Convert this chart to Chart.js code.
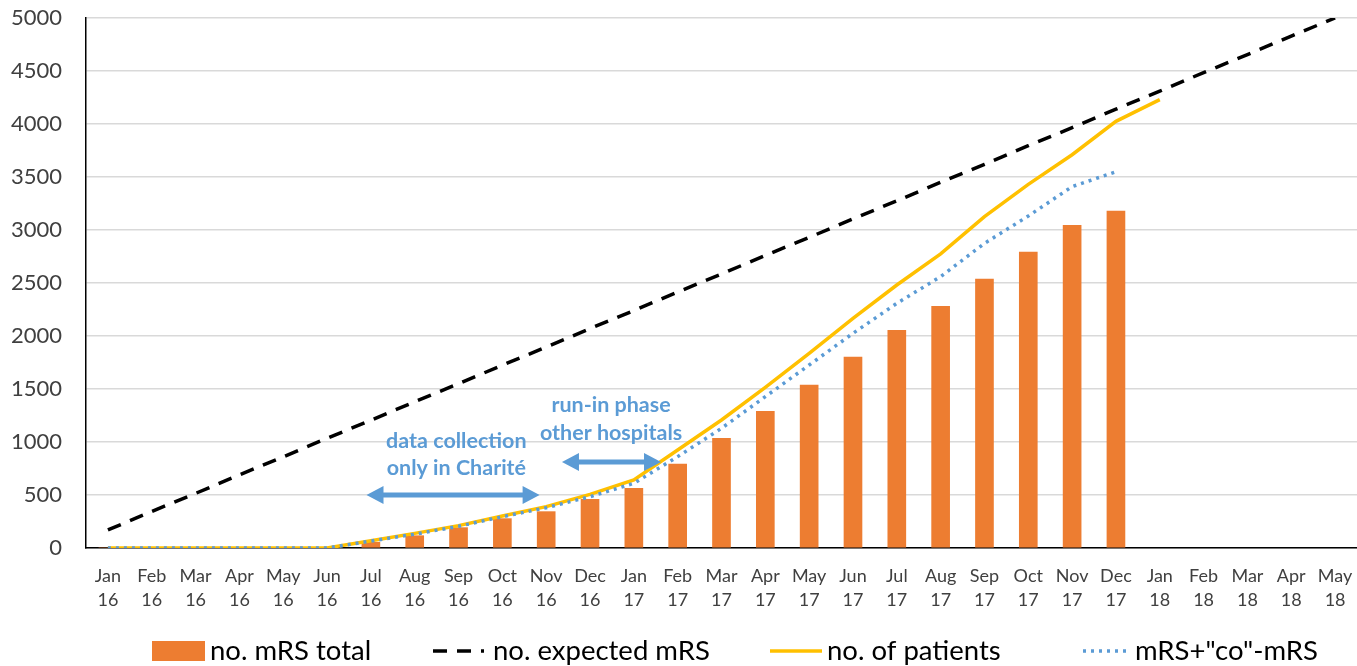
<!DOCTYPE html>
<html>
<head>
<meta charset="utf-8">
<script src="https://cdn.jsdelivr.net/npm/chart.js@4.4.0/dist/chart.umd.min.js"></script>
<style>
  html, body { margin: 0; padding: 0; background: #fff; }
  #wrap { width: 1357px; height: 666px; position: relative; }
</style>
</head>
<body>
<div id="wrap"><canvas id="chart"></canvas></div>
<script>
// ===== Data =====
const months = ['Jan','Feb','Mar','Apr','May','Jun','Jul','Aug','Sep','Oct','Nov','Dec',
                'Jan','Feb','Mar','Apr','May','Jun','Jul','Aug','Sep','Oct','Nov','Dec',
                'Jan','Feb','Mar','Apr','May'];
const years  = ['16','16','16','16','16','16','16','16','16','16','16','16',
                '17','17','17','17','17','17','17','17','17','17','17','17',
                '18','18','18','18','18'];

const mrsTotal = [0,0,0,0,0,0,54,116,192,277,343,459,563,792,1035,1289,1538,1802,2053,2280,2538,2792,3044,3179,null,null,null,null,null];
const expectedMrs = [170,345,515,690,860,1035,1205,1380,1550,1725,1895,2070,2240,2415,2585,2760,2930,3105,3275,3450,3620,3795,3965,4140,4310,4485,4655,4830,5000];
const patients = [0,0,0,0,0,0,69,138,211,302,390,506,642,925,1208,1516,1836,2167,2481,2774,3126,3430,3710,4025,4230,null,null,null,null];
const mrsCoMrs = [0,0,0,0,0,0,65,130,205,295,380,484,610,862,1129,1428,1726,2025,2308,2560,2874,3132,3409,3550,null,null,null,null,null];

const yTicks = [0,500,1000,1500,2000,2500,3000,3500,4000,4500,5000];

// ===== Styles =====
const ORANGE = '#ED7D31', GOLD = '#FFC000', BLUE = '#5B9BD5', TXT = '#404040';
Chart.defaults.font.family = 'Lato, "Liberation Sans", sans-serif';
Chart.defaults.color = TXT;

// annotation notes (positions in category-index / value units)
const notes = [
  { lines: ['data collection', 'only in Charité'], x: 7.95, y: [1009, 755] },
  { lines: ['run-in phase', 'other hospitals'], x: 11.48, y: [1349, 1085] }
];
const arrows = [
  { from: 5.9, to: 9.85, y: 500 },
  { from: 10.36, to: 12.62, y: 811 }
];

const notePlugin = {
  id: 'notes',
  afterDatasetsDraw(chart) {
    const { ctx, scales: { x, y } } = chart;
    ctx.save();
    ctx.fillStyle = BLUE;
    ctx.font = 'bold 21.5px Lato, sans-serif';
    ctx.textAlign = 'center';
    ctx.textBaseline = 'middle';
    notes.forEach(n => n.lines.forEach((t, i) => ctx.fillText(t, x.getPixelForValue(n.x), y.getPixelForValue(n.y[i]))));
    arrows.forEach(a => {
      const x1 = x.getPixelForValue(a.from), x2 = x.getPixelForValue(a.to), yy = y.getPixelForValue(a.y);
      const hl = 17, hw = 9, sw = 2.5;
      ctx.beginPath();
      ctx.moveTo(x1, yy);
      ctx.lineTo(x1 + hl, yy - hw);
      ctx.lineTo(x1 + hl, yy - sw);
      ctx.lineTo(x2 - hl, yy - sw);
      ctx.lineTo(x2 - hl, yy - hw);
      ctx.lineTo(x2, yy);
      ctx.lineTo(x2 - hl, yy + hw);
      ctx.lineTo(x2 - hl, yy + sw);
      ctx.lineTo(x1 + hl, yy + sw);
      ctx.lineTo(x1 + hl, yy + hw);
      ctx.closePath();
      ctx.fill();
    });
    ctx.restore();
  }
};

// legend drawn by hand so the line styles match
const legendItems = [
  { ds: 0, x: 152, w: 53, gap: 5 },
  { ds: 1, x: 433, w: 51, gap: 9 },
  { ds: 2, x: 770, w: 52, gap: 5 },
  { ds: 3, x: 1083, w: 47, gap: 5 }
];
const legendPlugin = {
  id: 'myLegend',
  afterDraw(chart) {
    const ctx = chart.ctx, cy = 651;
    ctx.save();
    ctx.font = '27.5px Lato, sans-serif';
    ctx.textBaseline = 'middle';
    legendItems.forEach(it => {
      const d = chart.data.datasets[it.ds];
      if (d.type === 'bar') {
        ctx.fillStyle = d.backgroundColor;
        ctx.fillRect(it.x, cy - 10, it.w, 20);
      } else {
        ctx.strokeStyle = d.borderColor;
        ctx.lineWidth = d.borderWidth;
        ctx.setLineDash(d.borderDash || []);
        ctx.beginPath();
        ctx.moveTo(it.x, cy);
        ctx.lineTo(it.x + it.w, cy);
        ctx.stroke();
        ctx.setLineDash([]);
      }
      ctx.fillStyle = '#000';
      ctx.fillText(d.label, it.x + it.w + it.gap, cy);
    });
    ctx.restore();
  }
};

new Chart(document.getElementById('chart'), {
  data: {
    labels: months.map((m, i) => [m, years[i]]),
    datasets: [
      { type: 'bar', label: 'no. mRS total', data: mrsTotal, backgroundColor: ORANGE, barThickness: 18, order: 4 },
      { type: 'line', label: 'no. expected mRS', data: expectedMrs, borderColor: '#000', borderWidth: 3.5,
        borderDash: [14, 10], pointRadius: 0, fill: false, tension: 0, order: 3 },
      { type: 'line', label: 'no. of patients', data: patients, borderColor: GOLD, borderWidth: 3.5,
        pointRadius: 0, fill: false, tension: 0, order: 2 },
      { type: 'line', label: 'mRS+"co"-mRS', data: mrsCoMrs, borderColor: BLUE, borderWidth: 3.5,
        borderDash: [3, 5], pointRadius: 0, fill: false, tension: 0, order: 1 }
    ]
  },
  options: {
    responsive: true, maintainAspectRatio: false, animation: false,
    layout: { padding: { top: 18, right: 0, left: 0, bottom: 0 } },
    plugins: { legend: { display: false }, tooltip: { enabled: false } },
    scales: {
      x: {
        type: 'category', offset: true,
        grid: { display: false, drawTicks: false },
        border: { color: '#000', width: 1.5 },
        ticks: { color: TXT, font: { size: 18, lineHeight: 1.33 }, padding: 16, maxRotation: 0, autoSkip: false },
        afterFit: s => { s.height = 118; s.paddingLeft = 0; s.paddingRight = 0; }
      },
      y: {
        min: 0, max: 5000,
        afterBuildTicks: s => { s.ticks = yTicks.map(v => ({ value: v })); },
        grid: { color: '#D9D9D9', lineWidth: 1.5, drawTicks: false },
        border: { color: '#000', width: 1.5 },
        ticks: { color: TXT, font: { size: 22 }, padding: 24, callback: v => String(v) },
        afterFit: s => { s.width = 86; s.paddingTop = 0; s.paddingBottom = 0; }
      }
    }
  },
  plugins: [notePlugin, legendPlugin]
});
</script>
</body>
</html>
